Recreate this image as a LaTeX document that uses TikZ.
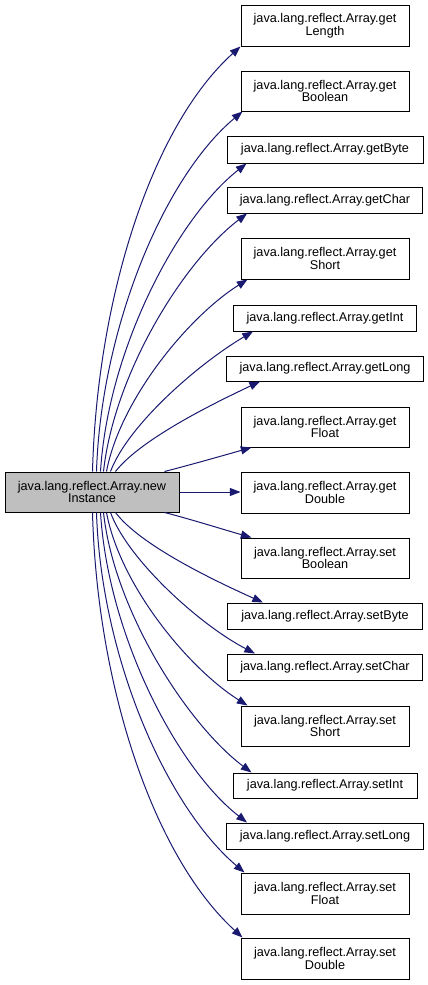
\documentclass[tikz,border=0pt]{standalone}
\usepackage{fontspec}
\setmainfont{Liberation Sans}
\usetikzlibrary{arrows.meta,calc}
\definecolor{edgec}{HTML}{191970}
\definecolor{mainfill}{HTML}{BFBFBF}
\begin{document}
\begin{tikzpicture}[x=0.75pt,y=-0.75pt,
  box/.style={draw=black, line width=0.75pt, fill=white, inner sep=0pt, align=center,
              font=\fontsize{9.5}{9.5}\selectfont},
  bw/.style={minimum width=#1*0.75pt},
  bh/.style={minimum height=#1*0.75pt},
  edge/.style={draw=edgec, line width=0.75pt, -{Triangle[length=8pt,width=6pt]}}]
\useasboundingbox (0,0) rectangle (428,985);

% nodes
\node[box, fill=mainfill, bw=174, bh=40] (main) at (92,492) {java.lang.reflect.Array.new\\Instance};

\node[box, bw=168, bh=41] (glen) at (325,25.5) {java.lang.reflect.Array.get\\Length};
\node[box, bw=168, bh=40] (gbool) at (325,91) {java.lang.reflect.Array.get\\Boolean};
\node[box, bw=196, bh=27] (gbyte) at (325,149.5) {java.lang.reflect.Array.getByte};
\node[box, bw=195, bh=26] (gchar) at (325,200) {java.lang.reflect.Array.getChar};
\node[box, bw=168, bh=41] (gshort) at (325,258.5) {java.lang.reflect.Array.get\\Short};
\node[box, bw=183, bh=26] (gint) at (325,318) {java.lang.reflect.Array.getInt};
\node[box, bw=197, bh=25] (glong) at (325,368.5) {java.lang.reflect.Array.getLong};
\node[box, bw=168, bh=40] (gfloat) at (325,427) {java.lang.reflect.Array.get\\Float};
\node[box, bw=168, bh=41] (gdouble) at (325,492.5) {java.lang.reflect.Array.get\\Double};
\node[box, bw=168, bh=40] (sbool) at (325,558) {java.lang.reflect.Array.set\\Boolean};
\node[box, bw=195, bh=26] (sbyte) at (325,616) {java.lang.reflect.Array.setByte};
\node[box, bw=195, bh=26] (schar) at (325,667) {java.lang.reflect.Array.setChar};
\node[box, bw=168, bh=40] (sshort) at (325,726) {java.lang.reflect.Array.set\\Short};
\node[box, bw=184, bh=25] (sint) at (325,785.5) {java.lang.reflect.Array.setInt};
\node[box, bw=197, bh=26] (slong) at (325,836) {java.lang.reflect.Array.setLong};
\node[box, bw=168, bh=41] (sfloat) at (325,893.5) {java.lang.reflect.Array.set\\Float};
\node[box, bw=168, bh=41] (sdouble) at (325,958.5) {java.lang.reflect.Array.set\\Double};

% edges
\draw[edge] ($(main.north west)+(88,0)$) .. controls (97,300) and (151,127) .. (glen.south west);
\draw[edge] ($(main.north west)+(92,0)$) .. controls (101,330) and (163,178) .. ($(gbool.south west)+(2,0)$);
\draw[edge] ($(main.north west)+(96,0)$) .. controls (108,350) and (177,218) .. ($(gbyte.south west)+(20,0)$);
\draw[edge] ($(main.north west)+(99,0)$) .. controls (114,375) and (182,263) .. ($(gchar.south west)+(20,0)$);
\draw[edge] ($(main.north west)+(102,0)$) .. controls (120,400) and (188,317) .. ($(gshort.south west)+(7,0)$);
\draw[edge] ($(main.north west)+(106,0)$) .. controls (128,425) and (198,364) .. ($(gint.south west)+(20,0)$);
\draw[edge] ($(main.north west)+(111,0)$) .. controls (140,440) and (210,405) .. ($(glong.south west)+(34,0)$);
\draw[edge] ($(main.north west)+(160,0)$) .. controls (190,465) and (225,455) .. ($(gfloat.south west)+(11,0)$);
\draw[edge] (main.east) -- (gdouble.west |- main.east);
\draw[edge] ($(main.south west)+(160,0)$) .. controls (190,519) and (225,530) .. ($(sbool.north west)+(11,0)$);
\draw[edge] ($(main.south west)+(111,0)$) .. controls (140,545) and (213,580) .. ($(sbyte.north west)+(36,0)$);
\draw[edge] ($(main.south west)+(106,0)$) .. controls (128,560) and (200,625) .. ($(schar.north west)+(28,0)$);
\draw[edge] ($(main.south west)+(102,0)$) .. controls (120,585) and (188,668) .. ($(sshort.north west)+(7,0)$);
\draw[edge] ($(main.south west)+(99,0)$) .. controls (114,610) and (187,724) .. ($(sint.north west)+(19,0)$);
\draw[edge] ($(main.south west)+(96,0)$) .. controls (108,635) and (177,768) .. ($(slong.north west)+(21,0)$);
\draw[edge] ($(main.south west)+(92,0)$) .. controls (101,655) and (165,805) .. ($(sfloat.north west)+(4,0)$);
\draw[edge] ($(main.south west)+(88,0)$) .. controls (97,685) and (153,856) .. ($(sdouble.north west)+(2,0)$);
\end{tikzpicture}
\end{document}
